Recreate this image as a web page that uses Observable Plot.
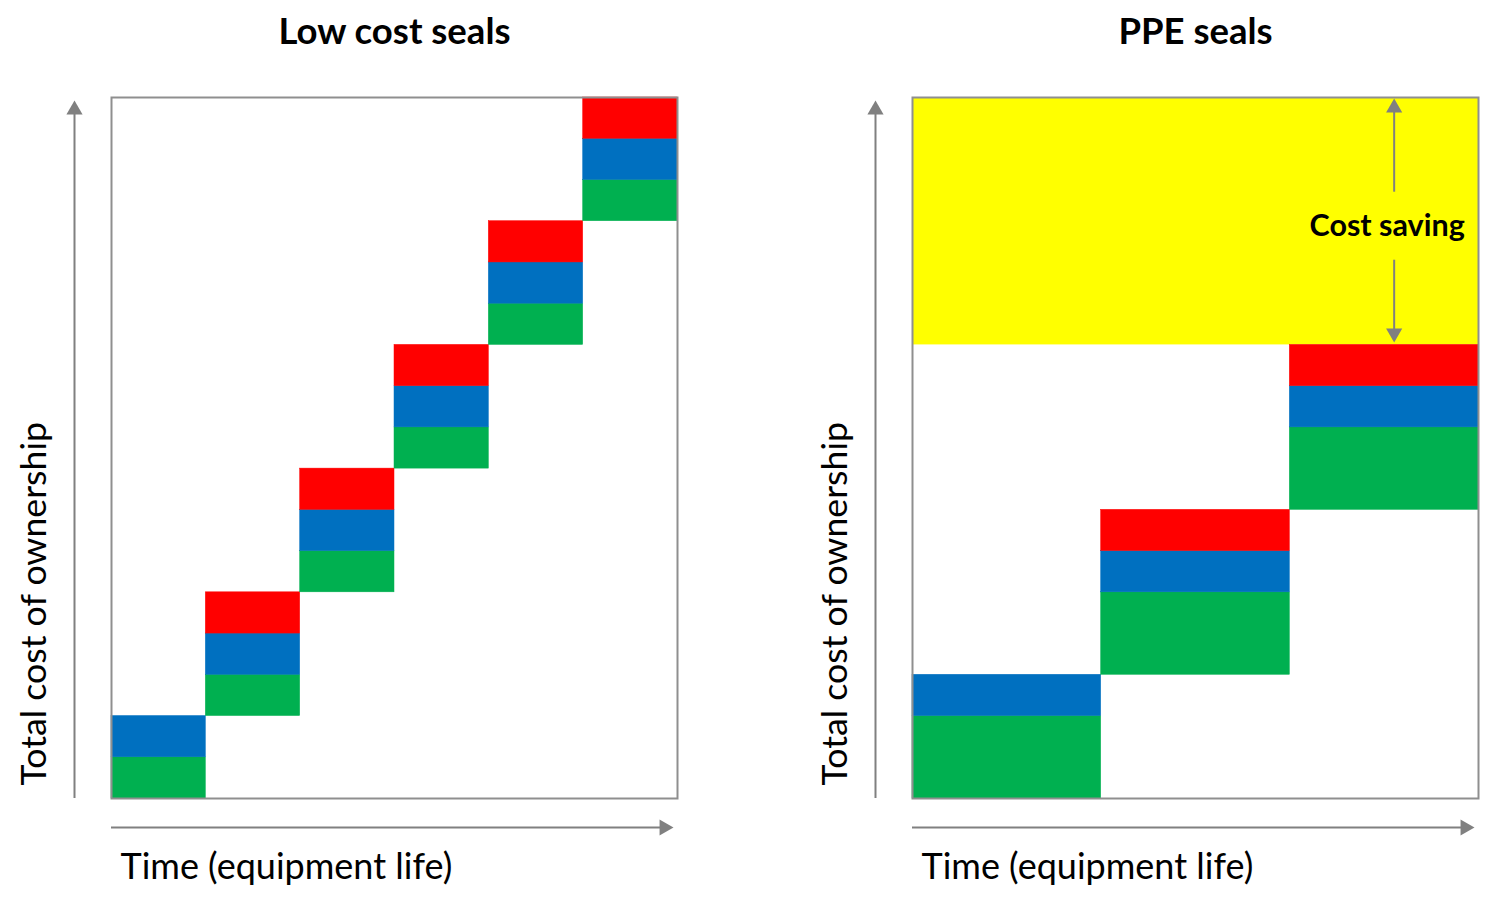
<!DOCTYPE html>
<html>
<head>
<meta charset="utf-8">
<script src="https://cdn.jsdelivr.net/npm/d3@7"></script>
<script src="https://cdn.jsdelivr.net/npm/@observablehq/plot@0.6"></script>
<style>
  html, body { margin: 0; padding: 0; background: #fff; }
  #wrap { position: relative; width: 1507px; height: 908px; overflow: hidden; }
  #wrap svg { position: absolute; top: 0; overflow: visible; background: transparent; }
</style>
</head>
<body>
<div id="wrap"></div>
<script>
// ---- data ----
const panelTitles = ["Low cost seals", "PPE seals"];
const yLabel = "Total cost of ownership";
const xLabel = "Time (equipment life)";
const savingLabel = "Cost saving";

const components = ["Seal purchase", "Installation", "Downtime"];
const componentColors = ["#00B050", "#0070C0", "#FF0000"];

// cost units per replacement period, stacked green / blue / red
const lowCostGreen = [1, 1, 1, 1, 1, 1];
const lowCostBlue  = [1, 1, 1, 1, 1, 1];
const lowCostRed   = [0, 1, 1, 1, 1, 1];

const ppeGreen = [2, 2, 2];
const ppeBlue  = [1, 1, 1];
const ppeRed   = [0, 1, 1];

// ---- helpers ----
function waterfall(green, blue, red) {
  const rows = [];
  let total = 0;
  green.forEach((g, i) => {
    [[components[0], g], [components[1], blue[i]], [components[2], red[i]]].forEach(([c, v]) => {
      if (v > 0) rows.push({x1: i, x2: i + 1, y1: total, y2: total + v, component: c});
      total += v;
    });
  });
  return {rows, total};
}

const low = waterfall(lowCostGreen, lowCostBlue, lowCostRed);
const ppe = waterfall(ppeGreen, ppeBlue, ppeRed);
const yMax = Math.max(low.total, ppe.total);

const gray = "#808080";
const font = "Lato, 'Open Sans', sans-serif";

function panel({rows, periods, title, width, marginRight, extra = []}) {
  return Plot.plot({
    width, height: 908,
    marginLeft: 111, marginRight, marginTop: 97, marginBottom: 110,
    x: {domain: [0, periods], axis: null},
    y: {domain: [0, yMax], axis: null},
    color: {domain: components, range: componentColors},
    style: {background: "transparent", overflow: "visible"},
    marks: [
      ...extra,
      Plot.rect(rows, {x1: "x1", x2: "x2", y1: "y1", y2: "y2", fill: "component", stroke: "component", strokeWidth: 0.5}),
      Plot.frame({stroke: "#8f8f8f", strokeWidth: 2}),
      // vertical axis arrow (y1 = top value so insetTop trims the top end)
      Plot.ruleX([{x: 0, top: yMax, bottom: 0}], {x: "x", y1: "top", y2: "bottom", dx: -37, insetTop: 12, stroke: gray, strokeWidth: 2}),
      Plot.dot([{x: 0, y: yMax}], {x: "x", y: "y", dx: -37, dy: 12.3, symbol: "triangle", r: 6, fill: gray, stroke: "none"}),
      // horizontal axis arrow
      Plot.ruleY([{y: 0, x1: 0, x2: periods}], {y: "y", x1: "x1", x2: "x2", dy: 29, insetRight: 13, stroke: gray, strokeWidth: 2}),
      Plot.dot([{x: periods, y: 0}], {x: "x", y: "y", dx: -13.3, dy: 29, symbol: "triangle", rotate: 90, r: 6, fill: gray, stroke: "none"}),
      // texts
      Plot.text([title], {text: d => d, frameAnchor: "top", lineAnchor: "bottom", dy: -54, fontSize: 36.5, fontWeight: "bold", fontFamily: font, fill: "#000"}),
      Plot.text([yLabel], {text: d => d, frameAnchor: "bottom-left", textAnchor: "start", lineAnchor: "bottom", rotate: -90, dx: -66, dy: -13, fontSize: 35.7, fontFamily: font, fill: "#000"}),
      Plot.text([xLabel], {text: d => d, frameAnchor: "bottom-left", textAnchor: "start", lineAnchor: "bottom", dx: 9, dy: 80, fontSize: 36, fontFamily: font, fill: "#000"})
    ]
  });
}

const saving = [{x: ppeGreen.length - 0.5, low: ppe.total, high: low.total, mid: (ppe.total + low.total) / 2}];

const savingMarks = [
  Plot.rect(saving, {x1: 0, x2: ppeGreen.length, y1: "low", y2: "high", fill: "#FFFF00"}),
  Plot.ruleX(saving, {x: "x", y1: "high", y2: "mid", dx: 10, insetTop: 10, insetBottom: 29, stroke: gray, strokeWidth: 2}),
  Plot.ruleX(saving, {x: "x", y1: "mid", y2: "low", dx: 10, insetTop: 39, insetBottom: 10, stroke: gray, strokeWidth: 2}),
  Plot.dot(saving, {x: "x", y: "high", dx: 10, dy: 10.3, symbol: "triangle", r: 6, fill: gray, stroke: "none"}),
  Plot.dot(saving, {x: "x", y: "low", dx: 10, dy: -11.7, symbol: "triangle", rotate: 180, r: 6, fill: gray, stroke: "none"}),
];
const savingText = Plot.text(saving, {x: "x", y: "mid", text: () => savingLabel, dx: 3, dy: 5, fontSize: 30.5, fontWeight: "bold", fontFamily: font, fill: "#000"});

const wrap = document.getElementById("wrap");

const p1 = panel({rows: low.rows, periods: lowCostGreen.length, title: panelTitles[0], width: 801, marginRight: 124});
p1.style.left = "0px";
wrap.appendChild(p1);

const p2 = panel({rows: ppe.rows, periods: ppeGreen.length, title: panelTitles[1], width: 706, marginRight: 29, extra: savingMarks});
p2.style.left = "801px";
wrap.appendChild(p2);

const labelSvg = Plot.plot({
  width: 706, height: 908,
  marginLeft: 111, marginRight: 29, marginTop: 97, marginBottom: 110,
  x: {domain: [0, ppeGreen.length], axis: null},
  y: {domain: [0, yMax], axis: null},
  style: {background: "transparent", overflow: "visible"},
  marks: [savingText]
});
labelSvg.style.left = "801px";
wrap.appendChild(labelSvg);
</script>
</body>
</html>
